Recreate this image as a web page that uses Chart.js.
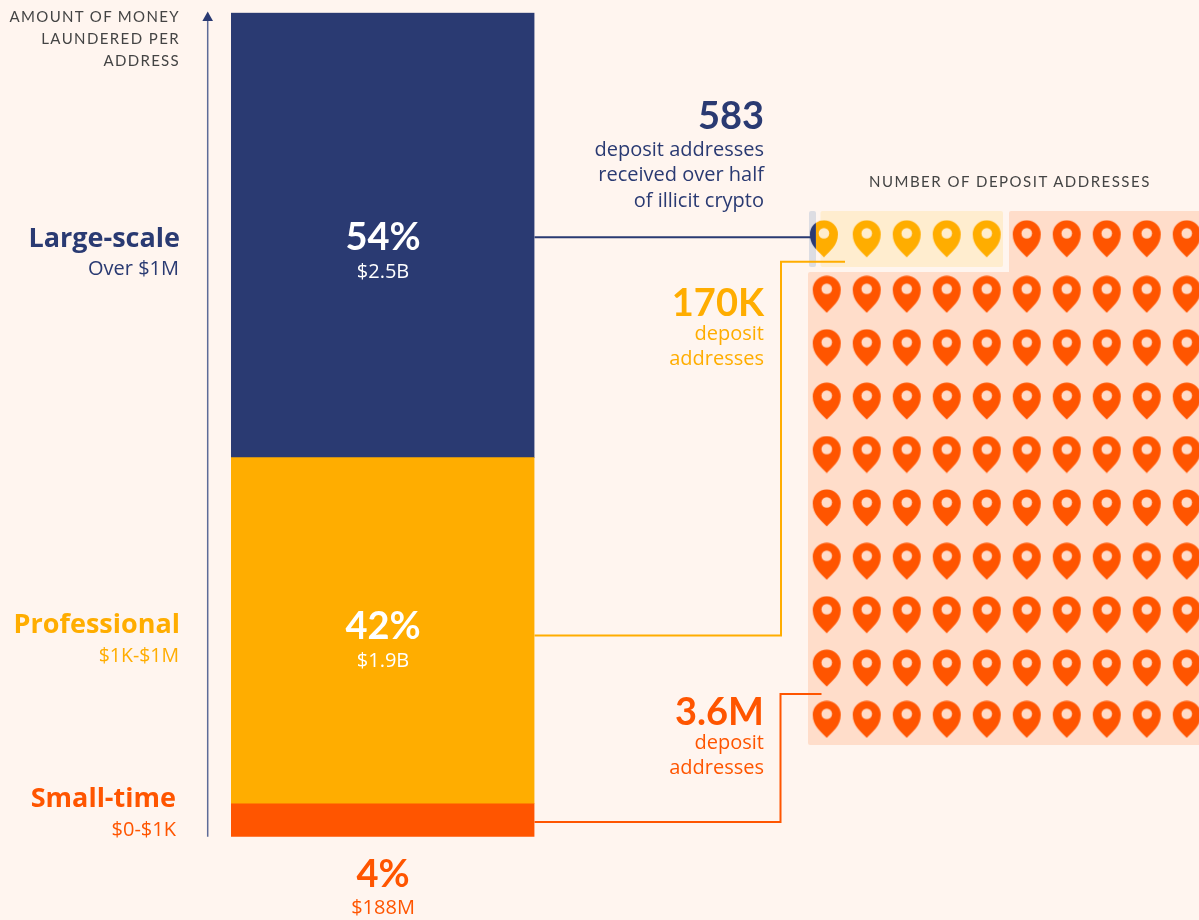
<!DOCTYPE html>
<html>
<head>
<meta charset="utf-8">
<title>Deposit addresses</title>
<script src="https://cdn.jsdelivr.net/npm/chart.js@4"></script>
<style>
    html, body { margin: 0; padding: 0; background: #fff5ef; overflow: hidden; }
    #page { position: relative; width: 1199px; height: 920px; font-family: "Open Sans", sans-serif; }
    canvas { position: absolute; }
    .label { position: absolute; white-space: nowrap; line-height: 1; transform: translateY(-50%); }
    .big { font-family: Lato, sans-serif; }
</style>
</head>
<body>
<div id="page">
    <canvas id="pinChart" width="391" height="534" style="left:808px;top:211px"></canvas>
    <canvas id="barChart" width="1199" height="920" style="left:0;top:0"></canvas>
</div>
<script>
const navy = '#2a3a72';
const yellow = '#ffad00';
const orange = '#ff5500';

// share of laundered money per tier, bottom to top
const tierNames = ['Small-time', 'Professional', 'Large-scale'];
const tierShares = [4, 42, 54];
const tierColors = [orange, yellow, navy];

// pictogram grid: row positions are read off the picture, rows are not quite even
const pinColumns = [1, 2, 3, 4, 5, 6, 7, 8, 9, 10];
const pinRows = [0.96, 2, 3, 4, 5, 6, 7, 8, 9, 9.96];
const firstPinColumn = 0.93;
const professionalColumns = [2, 3, 4, 5];
const smallTimeTopColumns = [6, 7, 8, 9, 10];

function makePin(color, holeColor, clipFrom, clipTo) {
    const c = document.createElement('canvas');
    c.width = 30;
    c.height = 38;
    const ctx = c.getContext('2d');
    ctx.beginPath();
    ctx.rect(clipFrom, 0, clipTo - clipFrom, 38);
    ctx.clip();
    ctx.fillStyle = color;
    ctx.beginPath();
    ctx.moveTo(15, 37.5);
    ctx.bezierCurveTo(9.5, 31.5, 1, 26, 1, 14.5);
    ctx.arc(15, 14.5, 14, Math.PI, 0);
    ctx.bezierCurveTo(29, 26, 20.5, 31.5, 15, 37.5);
    ctx.closePath();
    ctx.fill();
    ctx.fillStyle = holeColor;
    ctx.beginPath();
    ctx.arc(15, 13.5, 5.3, 0, Math.PI * 2);
    ctx.fill();
    return c;
}

function roundBox(ctx, x, y, w, h, color) {
    ctx.fillStyle = color;
    ctx.beginPath();
    ctx.roundRect(x, y, w, h, 2);
    ctx.fill();
}

// pale panels behind the pins
const panelsPlugin = {
    id: 'panels',
    beforeDatasetsDraw(chart) {
        const ctx = chart.ctx;
        const a = chart.chartArea;
        ctx.save();
        roundBox(ctx, a.left, a.top + 61, 400, 473, '#ffddca');
        roundBox(ctx, a.left + 201, a.top, 200, 70, '#ffddca');
        roundBox(ctx, a.left + 12.5, a.top, 182.5, 56, '#ffedcf');
        roundBox(ctx, a.left + 1, a.top, 7, 56, '#dddde3');
        ctx.restore();
    }
};

function polyline(ctx, color, width, pts) {
    ctx.strokeStyle = color;
    ctx.lineWidth = width;
    ctx.beginPath();
    pts.forEach((p, i) => (i ? ctx.lineTo(p[0], p[1]) : ctx.moveTo(p[0], p[1])));
    ctx.stroke();
}

// value axis arrow and the connectors from the bar to the pins
const connectorsPlugin = {
    id: 'connectors',
    afterDatasetsDraw(chart) {
        const ctx = chart.ctx;
        const a = chart.chartArea;
        const right = a.right;
        ctx.save();
        polyline(ctx, '#5d6b98', 1.5, [[207.7, 20], [207.7, a.bottom]]);
        ctx.fillStyle = navy;
        ctx.beginPath();
        ctx.moveTo(207.7, 11.5);
        ctx.lineTo(213, 21);
        ctx.lineTo(202.4, 21);
        ctx.closePath();
        ctx.fill();
        polyline(ctx, navy, 2, [[right, 237.3], [812, 237.3]]);
        polyline(ctx, yellow, 2, [[right, 635.5], [781, 635.5], [781, 261.7], [845, 261.7]]);
        polyline(ctx, orange, 2, [[right, 822], [780.5, 822], [780.5, 694], [821.5, 694]]);
        ctx.restore();
    }
};

new Chart(document.getElementById('barChart'), {
    type: 'bar',
    data: {
        labels: ['Laundered'],
        datasets: tierNames.map((name, i) => ({
            label: name,
            data: [tierShares[i]],
            backgroundColor: tierColors[i],
            barPercentage: 1,
            categoryPercentage: 1
        }))
    },
    options: {
        responsive: false,
        animation: false,
        layout: { padding: { left: 231, right: 664.5, top: 12.7, bottom: 83.3 } },
        plugins: { legend: { display: false }, tooltip: { enabled: false } },
        scales: {
            x: { stacked: true, display: false },
            y: { stacked: true, display: false, min: 0, max: 100 }
        }
    },
    plugins: [connectorsPlugin]
});

function grid(columns, rows) {
    const pts = [];
    rows.forEach(y => columns.forEach(x => pts.push({ x: x, y: y })));
    return pts;
}

new Chart(document.getElementById('pinChart'), {
    type: 'scatter',
    data: {
        datasets: [
            { label: 'Small-time', data: grid(pinColumns, pinRows.slice(1)).concat(grid(smallTimeTopColumns, pinRows.slice(0, 1))), pointStyle: makePin(orange, '#ffddca', 0, 30) },
            { label: 'Professional', data: grid(professionalColumns, pinRows.slice(0, 1)), pointStyle: makePin(yellow, '#ffedcf', 0, 30) },
            { label: 'Professional first', data: grid([firstPinColumn], pinRows.slice(0, 1)), pointStyle: makePin(yellow, '#ffedcf', 7, 30) },
            { label: 'Large-scale', data: grid([firstPinColumn], pinRows.slice(0, 1)), pointStyle: makePin(navy, navy, 0, 7) }
        ]
    },
    options: {
        responsive: false,
        animation: false,
        layout: { autoPadding: false },
        plugins: { legend: { display: false }, tooltip: { enabled: false } },
        scales: {
            x: { type: 'linear', display: false, min: 0.5325, max: 10.3075 },
            y: { type: 'linear', display: false, reverse: true, min: 0.44, max: 10.44 }
        }
    },
    plugins: [panelsPlugin]
});

const page = document.getElementById('page');
function addLabel(text, anchor, x, y, size, weight, color, spacing, cls) {
    const el = document.createElement('div');
    el.className = 'label' + (cls ? ' ' + cls : '');
    el.textContent = text;
    el.style.top = y + 'px';
    el.style.fontSize = size + 'px';
    el.style.fontWeight = weight;
    el.style.color = color;
    el.style.letterSpacing = (spacing || 0) + 'px';
    if (anchor === 'right') {
        el.style.right = (1199 - x) + 'px';
    } else if (anchor === 'left') {
        el.style.left = x + 'px';
    } else {
        el.style.left = x + 'px';
        el.style.transform = 'translate(-50%, -50%)';
    }
    page.appendChild(el);
}

const grey = '#444444';
addLabel('AMOUNT OF MONEY', 'right', 180, 16, 15, 400, grey, 1.35, 'big');
addLabel('LAUNDERED PER', 'right', 180, 38, 15, 400, grey, 1.4, 'big');
addLabel('ADDRESS', 'right', 180, 60, 15, 400, grey, 1.3, 'big');
addLabel('NUMBER OF DEPOSIT ADDRESSES', 'left', 869, 180.5, 15, 400, grey, 1.5, 'big');

addLabel('Large-scale', 'right', 180, 236, 27, 700, navy);
addLabel('Over $1M', 'right', 179, 268, 20, 400, navy);
addLabel('Professional', 'right', 180, 622, 27, 700, yellow);
addLabel('$1K-$1M', 'right', 179, 655, 19.5, 400, yellow);
addLabel('Small-time', 'right', 176, 796, 27, 700, orange);
addLabel('$0-$1K', 'right', 176, 829, 20, 400, orange);

addLabel('54%', 'center', 383, 235, 38, 700, '#ffffff', 0, 'big');
addLabel('$2.5B', 'center', 383, 271, 20, 400, '#ffffff');
addLabel('42%', 'center', 383, 624, 38, 700, '#ffffff', 0, 'big');
addLabel('$1.9B', 'center', 383, 660, 20, 400, '#ffffff');
addLabel('4%', 'center', 383, 872, 38, 700, orange, 0, 'big');
addLabel('$188M', 'center', 383, 907, 20, 400, orange);

addLabel('583', 'right', 764, 114, 38, 700, navy, 0, 'big');
addLabel('deposit addresses', 'right', 764, 149, 20, 400, navy);
addLabel('received over half', 'right', 764, 174, 20, 400, navy);
addLabel('of illicit crypto', 'right', 764, 200, 20, 400, navy);
addLabel('170K', 'right', 764, 301, 38, 700, yellow, 0, 'big');
addLabel('deposit', 'right', 764, 333, 20, 400, yellow);
addLabel('addresses', 'right', 764, 358, 20, 400, yellow);
addLabel('3.6M', 'right', 764, 710, 38, 700, orange, 0, 'big');
addLabel('deposit', 'right', 764, 742, 20, 400, orange);
addLabel('addresses', 'right', 764, 767, 20, 400, orange);
</script>
</body>
</html>
